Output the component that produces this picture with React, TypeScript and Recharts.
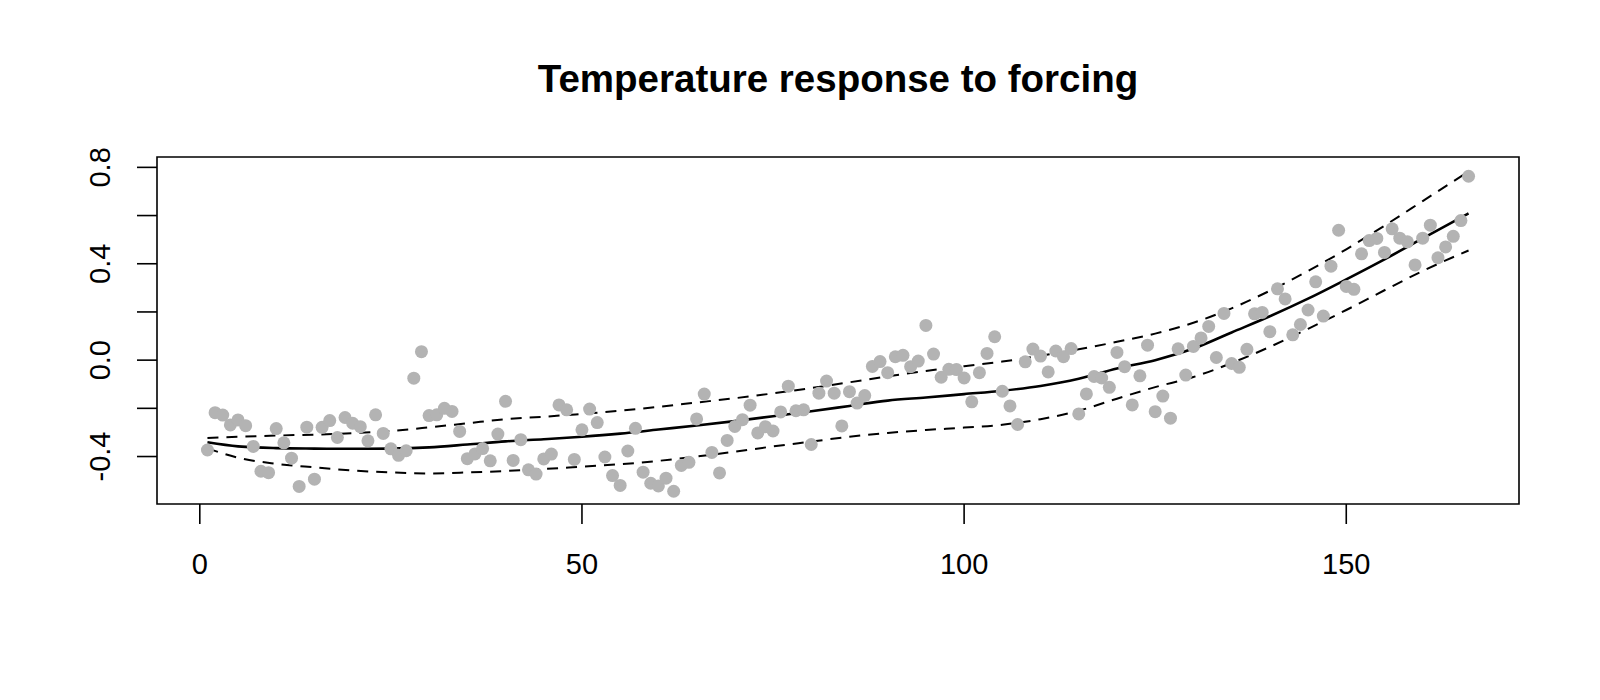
import React from "react";
import { ComposedChart, Scatter, Line, XAxis, YAxis, ReferenceArea } from "recharts";

// annual temperature anomalies, one per time step (1..166)
const temps = [
  -0.373, -0.218, -0.228, -0.269, -0.248, -0.272, -0.358, -0.461, -0.467, -0.284,
  -0.343, -0.407, -0.524, -0.278, -0.494, -0.279, -0.251, -0.321, -0.238, -0.262,
  -0.276, -0.335, -0.227, -0.304, -0.368, -0.395, -0.376, -0.075, 0.035, -0.23,
  -0.227, -0.2, -0.213, -0.296, -0.409, -0.389, -0.367, -0.418, -0.307, -0.171,
  -0.416, -0.33, -0.455, -0.473, -0.41, -0.39, -0.186, -0.206, -0.412, -0.289,
  -0.203, -0.259, -0.402, -0.479, -0.52, -0.377, -0.283, -0.465, -0.511, -0.522,
  -0.49, -0.544, -0.437, -0.424, -0.244, -0.141, -0.383, -0.468, -0.333, -0.275,
  -0.247, -0.187, -0.302, -0.276, -0.294, -0.215, -0.108, -0.21, -0.206, -0.35,
  -0.137, -0.087, -0.137, -0.273, -0.131, -0.178, -0.147, -0.026, -0.006, -0.052,
  0.014, 0.02, -0.027, -0.004, 0.144, 0.025, -0.071, -0.038, -0.039, -0.074,
  -0.173, -0.052, 0.028, 0.097, -0.129, -0.19, -0.267, -0.007, 0.046, 0.017,
  -0.049, 0.038, 0.014, 0.048, -0.223, -0.14, -0.068, -0.074, -0.113, 0.032,
  -0.027, -0.186, -0.065, 0.062, -0.214, -0.149, -0.241, 0.047, -0.062, 0.057,
  0.092, 0.14, 0.011, 0.194, -0.014, -0.03, 0.045, 0.192, 0.198, 0.118,
  0.296, 0.254, 0.105, 0.148, 0.208, 0.325, 0.183, 0.39, 0.539, 0.306,
  0.294, 0.441, 0.496, 0.505, 0.447, 0.545, 0.506, 0.491, 0.395, 0.506,
  0.56, 0.425, 0.47, 0.514, 0.579, 0.763,
];

// fitted response and its band
const fitX = [1, 5, 10, 15, 20, 25, 30, 35, 40, 45, 50, 55, 60, 65, 70, 75, 80, 85, 90, 95, 100, 105, 110, 115, 120, 125, 130, 135, 140, 145, 150, 155, 160, 166];
const fitMid = [-0.341, -0.358, -0.365, -0.367, -0.368, -0.367, -0.362, -0.35, -0.337, -0.328, -0.318, -0.305, -0.288, -0.271, -0.253, -0.233, -0.212, -0.19, -0.168, -0.155, -0.141, -0.127, -0.107, -0.077, -0.035, 0.0, 0.048, 0.115, 0.182, 0.255, 0.335, 0.418, 0.505, 0.609];
const fitUpper = [-0.323, -0.318, -0.313, -0.309, -0.303, -0.294, -0.279, -0.262, -0.245, -0.235, -0.223, -0.21, -0.194, -0.176, -0.158, -0.138, -0.116, -0.092, -0.067, -0.045, -0.025, -0.006, 0.018, 0.045, 0.076, 0.11, 0.155, 0.215, 0.288, 0.37, 0.46, 0.558, 0.66, 0.783];
const fitLower = [-0.366, -0.405, -0.43, -0.445, -0.458, -0.466, -0.47, -0.466, -0.46, -0.452, -0.442, -0.432, -0.418, -0.4, -0.38, -0.358, -0.338, -0.318, -0.302, -0.29, -0.28, -0.268, -0.245, -0.21, -0.16, -0.112, -0.07, -0.012, 0.055, 0.13, 0.208, 0.29, 0.37, 0.455];

const xTicks = [0, 50, 100, 150];
const yTicks = [-0.4, -0.2, 0, 0.2, 0.4, 0.6, 0.8];
const yLabelled = [-0.4, 0, 0.4, 0.8];

const xDomain: [number, number] = [-5.6, 172.6];
const yDomain: [number, number] = [-0.597, 0.843];

const FONT = "'Liberation Sans', Arial, Helvetica, sans-serif";

const points = temps.map((t, i) => ({ x: i + 1, y: t }));
const fit = fitX.map((x, i) => ({ x, mid: fitMid[i], upper: fitUpper[i], lower: fitLower[i] }));

function YTick(props: any) {
  const { x, y, payload } = props;
  const v = payload.value;
  if (!yLabelled.some((l) => Math.abs(l - v) < 1e-9)) return null;
  return (
    <text
      x={x}
      y={y}
      transform={`rotate(-90, ${x}, ${y})`}
      textAnchor="middle"
      fontSize={29}
      fontFamily={FONT}
      fill="#000"
    >
      {v.toFixed(1)}
    </text>
  );
}

const dot = (p: any) => <circle cx={p.cx} cy={p.cy} r={6.5} fill="#b3b3b3" />;

export default function App() {
  return (
    <div style={{ position: "absolute", left: 0, top: 0, width: 1600, height: 700, background: "#fff" }}>
      <div
        style={{
          position: "absolute",
          left: 157,
          top: 60,
          width: 1362,
          textAlign: "center",
          fontFamily: FONT,
          fontWeight: "bold",
          fontSize: 38.5,
          lineHeight: "38.5px",
        }}
      >
        Temperature response to forcing
      </div>
      <ComposedChart width={1600} height={700} margin={{ top: 157, right: 81, bottom: 0, left: 0 }}>
        <XAxis
          type="number"
          dataKey="x"
          domain={xDomain}
          allowDataOverflow
          ticks={xTicks}
          height={196}
          tickSize={20}
          tickMargin={29}
          axisLine={false}
          tickLine={{ stroke: "#000", strokeWidth: 1.6 }}
          tick={{ fontSize: 29, fill: "#000", fontFamily: FONT }}
        />
        <YAxis
          type="number"
          domain={yDomain}
          allowDataOverflow
          ticks={yTicks}
          width={157}
          tickSize={20}
          tickMargin={27}
          axisLine={false}
          tickLine={{ stroke: "#000", strokeWidth: 1.6 }}
          tick={<YTick />}
        />
        <ReferenceArea
          x1={xDomain[0]}
          x2={xDomain[1]}
          y1={yDomain[0]}
          y2={yDomain[1]}
          fill="none"
          stroke="#000"
          strokeWidth={1.6}
        />
        <Scatter data={points} dataKey="y" shape={dot} isAnimationActive={false} />
        <Line data={fit} dataKey="mid" type="monotone" stroke="#000" strokeWidth={2.6} dot={false} isAnimationActive={false} />
        <Line data={fit} dataKey="upper" type="monotone" stroke="#000" strokeWidth={2} strokeDasharray="11 8" dot={false} isAnimationActive={false} />
        <Line data={fit} dataKey="lower" type="monotone" stroke="#000" strokeWidth={2} strokeDasharray="11 8" dot={false} isAnimationActive={false} />
      </ComposedChart>
    </div>
  );
}
